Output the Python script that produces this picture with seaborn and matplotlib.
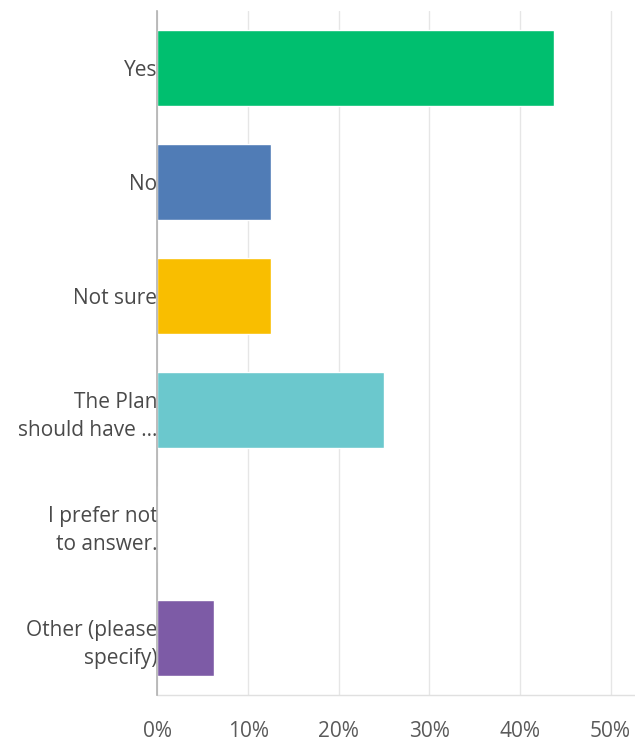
import matplotlib
matplotlib.use("Agg")
import matplotlib.pyplot as plt
import seaborn as sns
import pandas as pd
from matplotlib.ticker import FuncFormatter

categories = ["Yes", "No", "Not sure", "The Plan\nshould have ...",
              "I prefer not\nto answer.", "Other (please\nspecify)"]
percent = [43.75, 12.5, 12.5, 25.0, 0.0, 6.25]
bar_colors = ["#00BF6F", "#507CB6", "#F9BE00", "#6BC8CD", "#FF8B4F", "#7D5BA6"]
tick_values = [0, 10, 20, 30, 40, 50]

sns.set_theme(style="white")
plt.rcParams["font.family"] = ["Open Sans", "DejaVu Sans"]

df = pd.DataFrame({"answer": categories, "percent": percent})

fig = plt.figure(figsize=(6.35, 7.42), dpi=100)
ax = fig.add_axes([0.248, 0.0633, 0.752, 0.9217])

sns.barplot(data=df, x="percent", y="answer", hue="answer",
            palette=bar_colors, orient="h", width=0.67,
            saturation=1, legend=False, ax=ax, zorder=3)

ax.set_xlim(0, 52.7)
ax.set_ylim(5.5, -0.5)
ax.set_xticks(tick_values)
ax.xaxis.set_major_formatter(FuncFormatter(lambda v, _: f"{v:.0f}%"))
ax.grid(axis="x", color="#e6e6e6", linewidth=1.0, zorder=0)
ax.set_xlabel("")
ax.set_ylabel("")

for side in ("top", "right", "bottom"):
    ax.spines[side].set_visible(False)
ax.spines["left"].set_color("#b0b0b0")
ax.spines["left"].set_linewidth(1.2)
ax.spines["left"].set_zorder(4)
ax.axhline(5.5, color="#e0e0e0", linewidth=1.0, zorder=1, clip_on=False)

ax.tick_params(axis="y", length=0, pad=0, labelsize=15, labelcolor="#4a4a4a")
ax.tick_params(axis="x", length=0, pad=19, labelsize=15, labelcolor="#5a5a5a")
for lbl in ax.get_yticklabels():
    lbl.set_linespacing(1.45)
    lbl.set_horizontalalignment("right")

fig.savefig("out.png", dpi=100)
